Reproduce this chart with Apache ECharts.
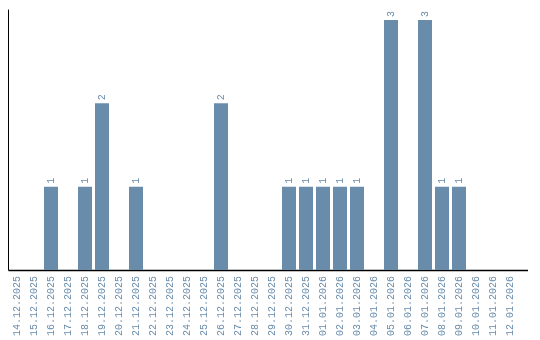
<!DOCTYPE html>
<html><head><meta charset="utf-8">
<script src="https://cdn.jsdelivr.net/npm/echarts@6/dist/echarts.min.js"></script>
<style>html,body{margin:0;padding:0;background:#fff}#c{width:540px;height:340px}</style>
</head><body><div id="c"></div>
<script>
const categories = ["14.12.2025","15.12.2025","16.12.2025","17.12.2025","18.12.2025","19.12.2025","20.12.2025","21.12.2025","22.12.2025","23.12.2025","24.12.2025","25.12.2025","26.12.2025","27.12.2025","28.12.2025","29.12.2025","30.12.2025","31.12.2025","01.01.2026","02.01.2026","03.01.2026","04.01.2026","05.01.2026","06.01.2026","07.01.2026","08.01.2026","09.01.2026","10.01.2026","11.01.2026","12.01.2026"];
const values = [0,0,1,0,1,2,0,1,0,0,0,0,2,0,0,0,1,1,1,1,1,0,3,0,3,1,1,0,0,0];
const yMax = 3.12;

const color = '#6a8cab';
const chart = echarts.init(document.getElementById('c'));
chart.setOption({
  animation: false,
  grid: {left: 8.5, right: 21.5, top: 10, bottom: 70},
  xAxis: {
    type: 'category', data: categories,
    axisLine: {show: false},
    axisTick: {show: false},
    axisLabel: {rotate: 90, color: color, fontFamily: 'Liberation Mono', fontSize: 10, margin: 6, interval: 0}
  },
  yAxis: {
    type: 'value', min: 0, max: yMax,
    axisLine: {show: true, lineStyle: {color: '#000', width: 1}},
    axisTick: {show: false}, axisLabel: {show: false}, splitLine: {show: false}
  },
  series: [{
    type: 'bar', data: values.map(v => v === 0 ? {value: v, label: {show: false}} : v),
    barWidth: 14,
    itemStyle: {color: color},
    label: {show: true, position: 'top', rotate: 90, align: 'left', verticalAlign: 'middle', distance: 3,
      color: color, fontFamily: 'Liberation Mono', fontSize: 10}
  }],
  graphic: [{type: 'line', shape: {x1: 8.5, y1: 270.5, x2: 528, y2: 270.5}, style: {stroke: '#000', lineWidth: 1.5}}]
});
</script></body></html>
